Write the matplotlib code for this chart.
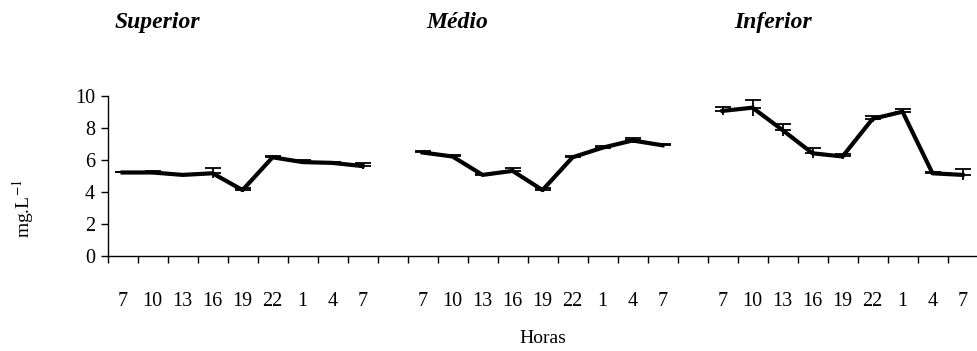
import matplotlib

matplotlib.use("Agg")
import matplotlib.pyplot as plt
from matplotlib.ticker import FixedLocator, NullFormatter
import numpy as np

# dissolved oxygen (mg/L) per sampling hour, three depths
horas = ["7", "10", "13", "16", "19", "22", "1", "4", "7"]
superior = [5.2, 5.2, 5.05, 5.15, 4.1, 6.15, 5.85, 5.8, 5.6]
superior_err = [0.05, 0.1, 0.05, 0.3, 0.1, 0.05, 0.1, 0.05, 0.2]
medio = [6.45, 6.2, 5.05, 5.3, 4.1, 6.15, 6.75, 7.2, 6.9]
medio_err = [0.1, 0.1, 0.05, 0.15, 0.1, 0.05, 0.1, 0.15, 0.05]
inferior = [9.05, 9.25, 7.85, 6.4, 6.2, 8.55, 9.0, 5.15, 5.05]
inferior_err = [0.25, 0.5, 0.35, 0.3, 0.15, 0.2, 0.15, 0.05, 0.35]
titulos = ["Superior", "Médio", "Inferior"]

plt.rcParams["font.family"] = ["Liberation Serif", "DejaVu Serif"]

fig = plt.figure(figsize=(9.78, 3.51), dpi=100)
ax = fig.add_axes([0.110, 0.2715, 0.8895, 0.4559])

n = len(horas)
blocos = [(superior, superior_err), (medio, medio_err), (inferior, inferior_err)]
centros = []
for k, (vals, err) in enumerate(blocos):
    x = np.arange(n) + k * (n + 1) + 0.5
    centros.extend(x)
    vals = np.array(vals)
    err = np.array(err)
    # upper bars with caps, lower part without caps
    ax.errorbar(x, vals, yerr=[np.zeros(n), err], fmt="none", ecolor="black",
                elinewidth=1.3, capsize=5.5, capthick=1.3, zorder=2)
    ax.errorbar(x, vals, yerr=[err, np.zeros(n)], fmt="none", ecolor="black",
                elinewidth=1.3, capsize=0, zorder=2)
    ax.plot(x, vals, color="black", linewidth=3.0, zorder=3)

total = 3 * n + 2
ax.set_xlim(0, total)
ax.set_ylim(0, 10)
ax.set_yticks(np.arange(0, 11, 2))

ax.xaxis.set_major_locator(FixedLocator(np.arange(0, total + 1)))
ax.xaxis.set_major_formatter(NullFormatter())
ax.xaxis.set_minor_locator(FixedLocator(centros))
ax.set_xticklabels(horas * 3, minor=True)
ax.tick_params(axis="x", which="major", direction="out", length=5, width=1)
ax.tick_params(axis="x", which="minor", length=0, pad=26, labelsize=14.5)
ax.tick_params(axis="y", direction="out", length=5, width=1, labelsize=14.5, pad=4)

for s in ["top", "right"]:
    ax.spines[s].set_visible(False)
for s in ["left", "bottom"]:
    ax.spines[s].set_linewidth(1)

fig.text(0.024, 0.405, "mg.L$^{-1}$", rotation=90, ha="center", va="center",
         fontsize=14, math_fontfamily="stix")
fig.text(0.555, 0.037, "Horas", ha="center", va="center", fontsize=14)

for xpos, t in zip([0.161, 0.468, 0.790], titulos):
    fig.text(xpos, 0.937, t, ha="center", va="center", fontsize=17,
             fontweight="bold", fontstyle="italic")

fig.savefig("out.png", dpi=100)
